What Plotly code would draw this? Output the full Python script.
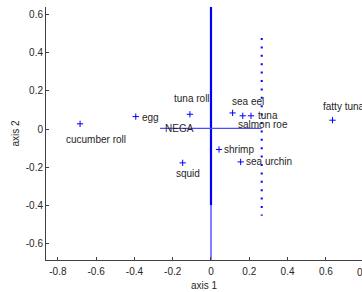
import plotly.graph_objects as go

# --- data ---
names = ["cucumber roll", "egg", "tuna roll", "sea eel", "salmon roe", "tuna",
         "fatty tuna", "shrimp", "sea urchin", "squid"]
axis1 = [-0.684, -0.393, -0.110, 0.113, 0.166, 0.209, 0.635, 0.042, 0.155, -0.148]
axis2 = [0.028, 0.066, 0.078, 0.085, 0.070, 0.070, 0.047, -0.106, -0.171, -0.176]

# NEGA direction line (horizontal), vertical axis line and dotted reference line
nega_x = [-0.266, 0.265]
nega_y = [0.004, 0.004]
vline_dark_x = [0.0, 0.0]
vline_dark_y = [0.639, -0.397]
vline_light_x = [0.0, 0.0]
vline_light_y = [-0.397, -0.684]
dotted_x = [0.265, 0.265]
dotted_y = [0.477, -0.453]

xticks = [-0.8, -0.6, -0.4, -0.2, 0, 0.2, 0.4, 0.6]
xticklabels = ["-0.8", "-0.6", "-0.4", "-0.2", "0", "0.2", "0.4", "0.6"]
yticks = [-0.6, -0.4, -0.2, 0, 0.2, 0.4, 0.6]
yticklabels = ["-0.6", "-0.4", "-0.2", "0", "0.2", "0.4", "0.6"]

# label placement (style): (xanchor, xshift, yshift)
label_style = {
    "cucumber roll": ("center", 16, -16),
    "egg": ("left", 4, -1),
    "tuna roll": ("center", 2, 16),
    "sea eel": ("center", 15, 11),
    "salmon roe": ("center", 20, -8.5),
    "tuna": ("left", 5, 0),
    "fatty tuna": ("center", 11, 14),
    "shrimp": ("left", 3, 0),
    "sea urchin": ("left", 3, 0),
    "squid": ("center", 5, -11),
}

FONT = "Liberation Sans, Arial, sans-serif"
TXT = "#262626"

fig = go.Figure()
fig.add_trace(go.Scatter(x=vline_light_x, y=vline_light_y, mode="lines",
                         line=dict(color="#7f7fff", width=2), hoverinfo="skip"))
fig.add_trace(go.Scatter(x=vline_dark_x, y=vline_dark_y, mode="lines",
                         line=dict(color="#0000ff", width=2.2), hoverinfo="skip"))
fig.add_trace(go.Scatter(x=nega_x, y=nega_y, mode="lines",
                         line=dict(color="#4d4dff", width=1.3), hoverinfo="skip"))
fig.add_trace(go.Scatter(x=dotted_x, y=dotted_y, mode="lines",
                         line=dict(color="#0000ff", width=2, dash="2px,6.4px"),
                         hoverinfo="skip"))
fig.add_trace(go.Scatter(x=axis1, y=axis2, mode="markers",
                         marker=dict(symbol="cross-thin", size=4.5,
                                     line=dict(color="#0000ff", width=1)),
                         hoverinfo="skip"))

annotations = []
for n, xv, yv in zip(names, axis1, axis2):
    xa, xs, ys = label_style[n]
    annotations.append(dict(x=xv, y=yv, xref="x", yref="y", text=n, showarrow=False,
                            xanchor=xa, yanchor="middle", xshift=xs, yshift=ys,
                            font=dict(family=FONT, size=10, color=TXT)))
annotations.append(dict(x=nega_x[0], y=nega_y[0], xref="x", yref="y", text="NEGA",
                        showarrow=False, xanchor="left", yanchor="middle",
                        xshift=3, yshift=0,
                        font=dict(family=FONT, size=10, color=TXT)))
# partially visible 0.8 tick label at the right edge
annotations.append(dict(x=1.0063, y=0, xref="paper", yref="paper", text="0.8",
                        showarrow=False, xanchor="center", yanchor="top", yshift=-5,
                        font=dict(family=FONT, size=10, color=TXT)))

fig.update_layout(
    width=362, height=292, autosize=False,
    margin=dict(l=46, r=0, t=7, b=32),
    paper_bgcolor="white", plot_bgcolor="white",
    showlegend=False,
    font=dict(family=FONT, size=10, color=TXT),
    annotations=annotations,
    xaxis=dict(range=[-0.862, 0.789], tickvals=xticks, ticktext=xticklabels,
               showgrid=False, zeroline=False, showline=True, linecolor="#404040",
               linewidth=1, ticks="inside", ticklen=3, tickcolor="#404040",
               ticklabelstandoff=2,
               tickfont=dict(family=FONT, size=10, color=TXT),
               title=dict(text="axis 1", standoff=5,
                          font=dict(family=FONT, size=10, color=TXT)),
               automargin=False, mirror=False),
    yaxis=dict(range=[-0.684, 0.639], tickvals=yticks, ticktext=yticklabels,
               showgrid=False, zeroline=False, showline=True, linecolor="#404040",
               linewidth=1, ticks="inside", ticklen=3, tickcolor="#404040",
               tickfont=dict(family=FONT, size=10, color=TXT),
               title=dict(text="axis 2", standoff=4,
                          font=dict(family=FONT, size=10, color=TXT)),
               automargin=False, mirror=False),
)

fig.write_html("out.html", config={"displayModeBar": False},
               post_script="document.body.style.margin='0px';")
